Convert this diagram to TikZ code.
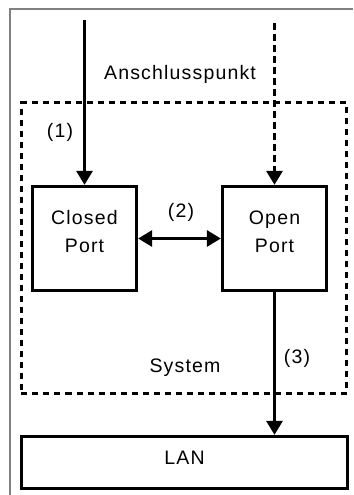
\documentclass[tikz,border=0pt]{standalone}
\usepackage{fontspec}
\setmainfont{Liberation Sans}[LetterSpace=6]
\usetikzlibrary{arrows.meta}
\begin{document}
\begin{tikzpicture}[x=1bp,y=-1bp,
  every node/.style={font=\fontsize{19.5bp}{22bp}\selectfont},
  frame/.style={draw=black!50,line width=1.5bp},
  portbox/.style={draw,line width=3.3bp,minimum width=104bp,minimum height=104bp,inner sep=0pt},
  lanbox/.style={draw,line width=3.3bp,minimum width=326bp,minimum height=52bp,inner sep=0pt},
  sysbox/.style={draw,line width=3bp,dash pattern=on 6bp off 5bp,minimum width=325bp,minimum height=290bp,inner sep=0pt},
  link/.style={line width=3bp,-{Triangle[width=16bp,length=14bp]}},
  dlink/.style={line width=3bp,dash pattern=on 7bp off 4bp,-{Triangle[width=16bp,length=14bp]}},
  bilink/.style={line width=3bp,{Triangle[width=16bp,length=14bp]}-{Triangle[width=16bp,length=14bp]}},
  txt/.style={inner sep=0pt}]
\useasboundingbox (0,0) rectangle (353,495);
% outer frame (top and left edges)
\draw[frame] (10,495) -- (10,9) -- (353,9);
% system boundary
\node[sysbox] (system) at (184,248) {};
% ports and network
\node[portbox] (closed) at (84.5,238.5) {};
\node[portbox] (open) at (274.5,238.5) {};
\node[lanbox] (lan) at (184.5,462.5) {};
% texts
\node[txt,align=center] (closedtxt) at (84.5,232) {Closed\\[6bp]Port};
\node[txt,align=center] (opentxt) at (274.5,232) {Open\\[6bp]Port};
\node[txt] (lantxt) at (184.5,458) {LAN};
\node[txt] (systxt) at (185,368) {System};
\node[txt] (anschl) at (180,74) {Anschlusspunkt};
\node[txt] (l1) at (60,132) {(1)};
\node[txt] (l2) at (181,212) {(2)};
\node[txt] (l3) at (297,358) {(3)};
% connectors
\coordinate (in1) at (84.5,20);
\coordinate (in2) at (274.5,23);
\draw[link] (in1) -- (closed.north);
\draw[dlink] (in2) -- (open.north);
\draw[bilink] (closed.east) -- (open.west);
\draw[link] (open.south) -- (open.south |- lan.north);
\end{tikzpicture}
\end{document}
